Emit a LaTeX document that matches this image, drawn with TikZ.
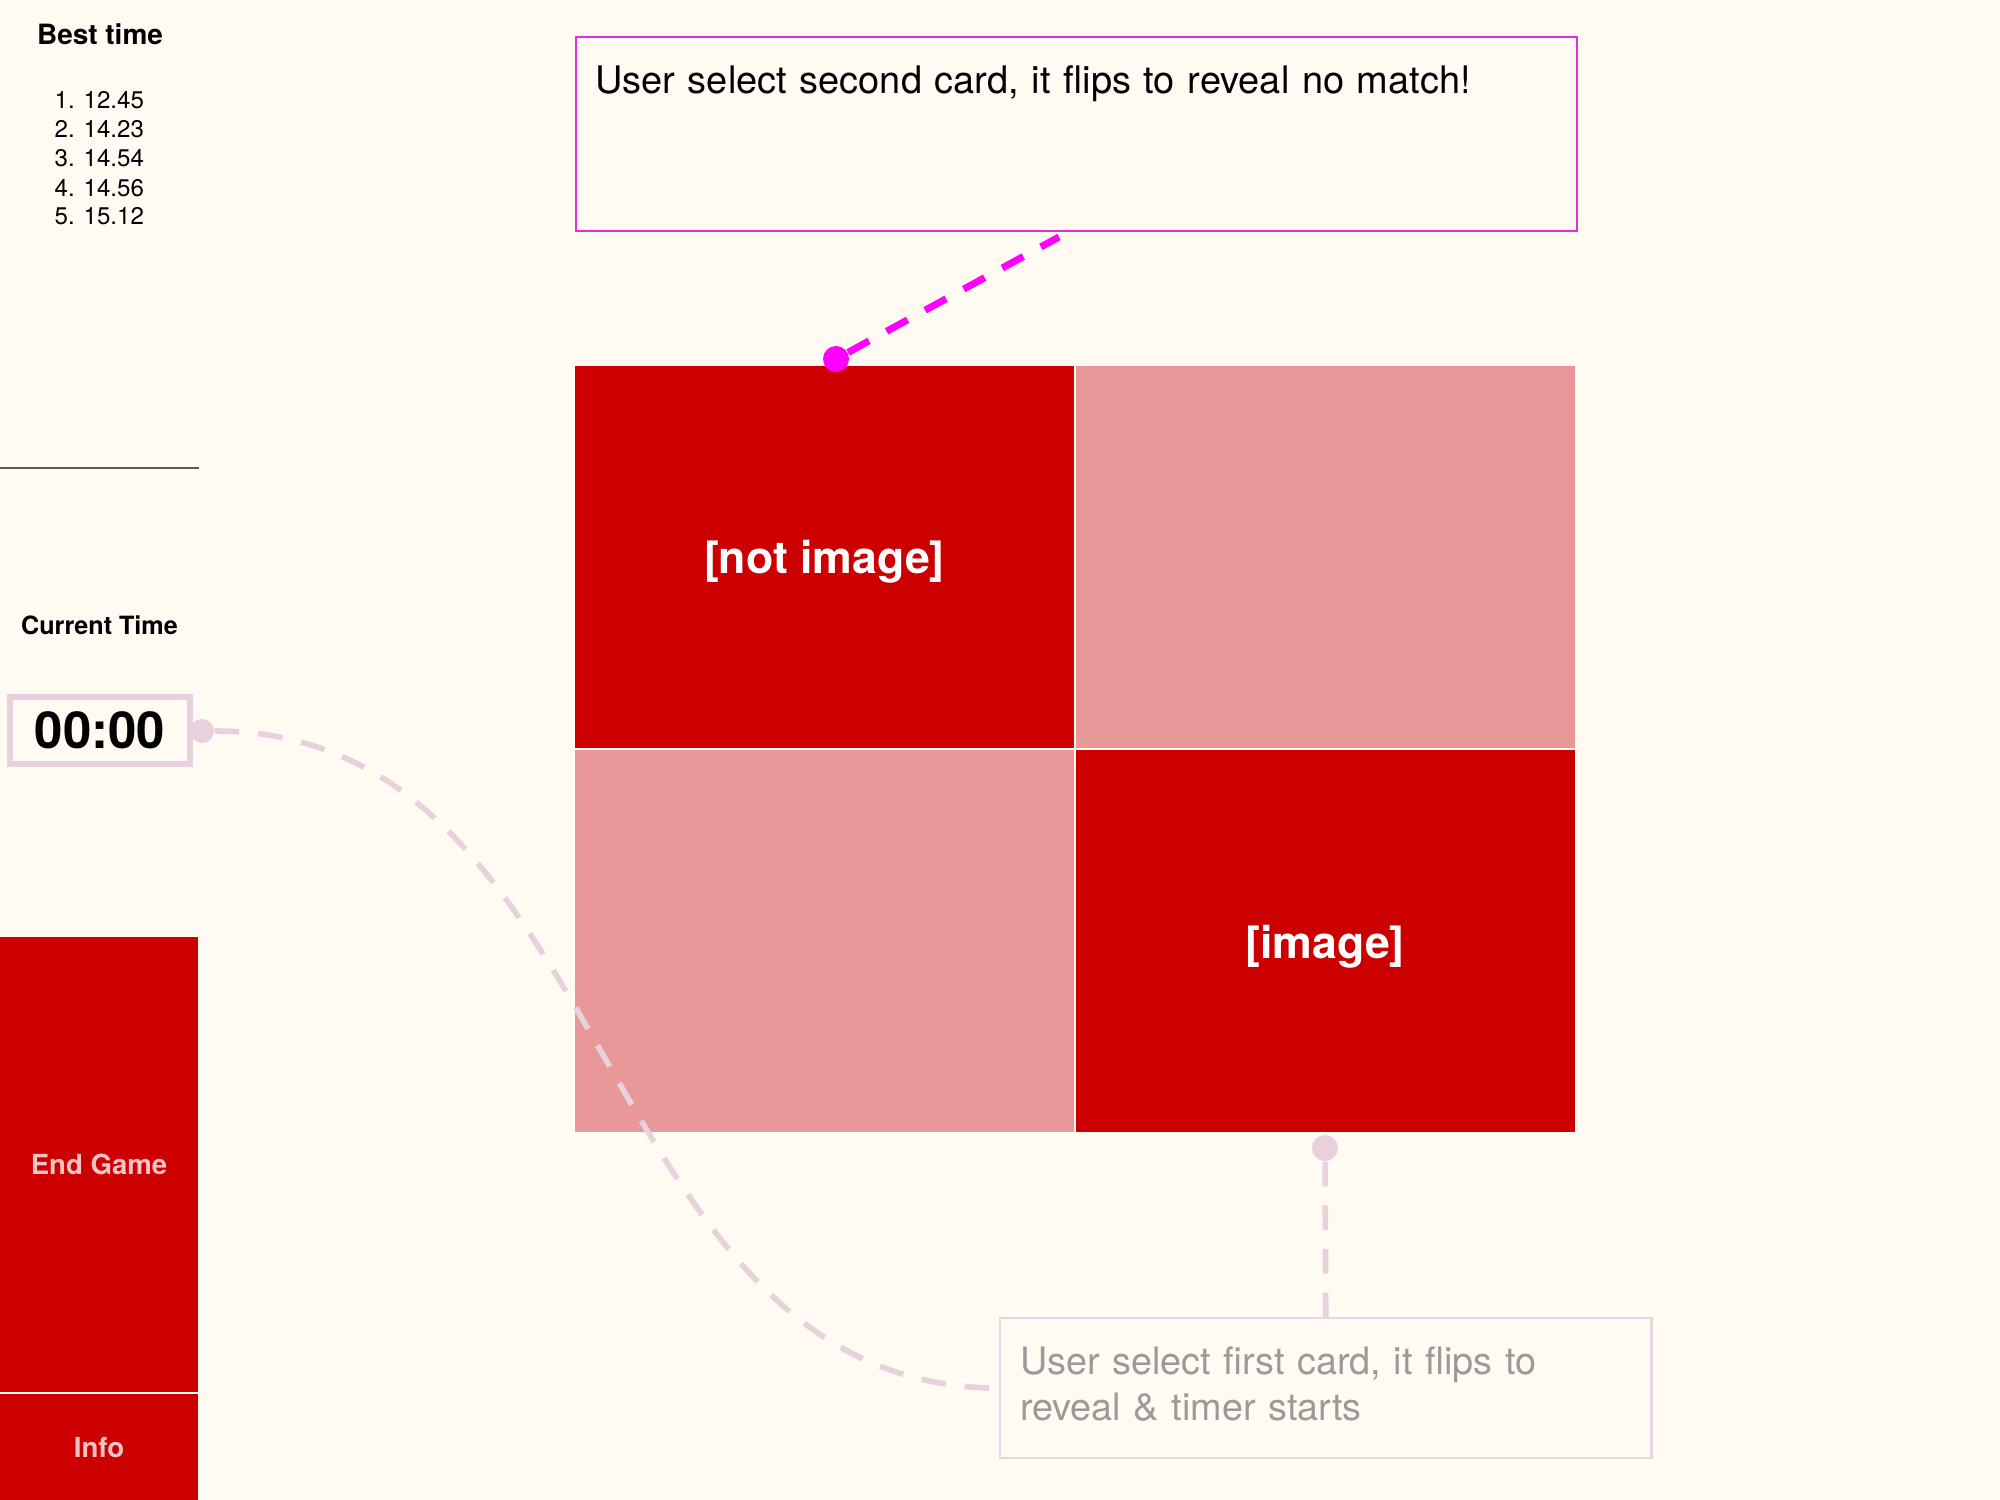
\documentclass[tikz,border=0pt]{standalone}
\usepackage{fontspec}
\setmainfont{TeX Gyre Heros}
\usetikzlibrary{positioning}
\definecolor{paper}{HTML}{FFFBF2}
\definecolor{cardred}{HTML}{CC0000}
\definecolor{cardpink}{HTML}{E89898}
\definecolor{softpink}{HTML}{E8D0DC}
\definecolor{notepink}{HTML}{EAD6E0}
\definecolor{notegray}{HTML}{9A9A9A}
\definecolor{btntext}{HTML}{F6C4C4}
\definecolor{magentaline}{HTML}{E22EE2}
\definecolor{magentadot}{HTML}{FF00FF}
\tikzset{
    card/.style={minimum width=4.985cm, minimum height=3.82cm, inner sep=0pt, outer sep=0pt, text=white, font=\bfseries\fontsize{12.7}{15}\selectfont},
    button/.style={fill=cardred, text=btntext, minimum width=1.98cm, inner sep=0pt, outer sep=0pt, font=\bfseries\fontsize{7.85}{9}\selectfont},
    pindot/.style={circle, inner sep=0pt},
    pinkdash/.style={draw=softpink, line width=1.6pt, dash pattern=on 7pt off 5.4pt},
    magentadash/.style={draw=magentadot, line width=2pt, dash pattern=on 6.8pt off 5.7pt}
}

\begin{document}
\begin{tikzpicture}[x=0.01cm, y=-0.01cm]
    \fill[paper] (0,0) rectangle (2000,1500);
    \useasboundingbox (0,0) rectangle (2000,1500);

    % side bar
    \node[font=\bfseries\fontsize{7.95}{9}\selectfont, anchor=base] (besttitle) at (100,45) {Best time};
    \foreach \t [count=\i] in {12.45,14.23,14.54,14.56,15.12}
        \node[font=\fontsize{6.85}{8}\selectfont, anchor=base west, inner sep=0pt] (best\i) at (54,{80+29*\i}) {\i. \t};
    \draw[black!65, line width=0.6pt] (0,468) -- (199,468);
    \node[font=\bfseries\fontsize{7.15}{9}\selectfont, anchor=base] (curtitle) at (99.5,634) {Current Time};
    \node[draw=softpink, line width=1.7pt, minimum width=1.79cm, minimum height=0.67cm, inner sep=0pt, font=\bfseries\fontsize{14.5}{17}\selectfont] (timer) at (100,730.5) {00:00};
    \node[pindot, fill=softpink, minimum size=0.24cm] (timerdot) at (202,731) {};
    \node[button, anchor=north west, minimum height=4.55cm] (endgame) at (0,937) {End Game};
    \node[button, below=0.02cm of endgame, minimum height=1.06cm] (info) {Info};

    % cards
    \node[card, fill=cardred, anchor=north west] (cardA) at (575,366) {\raisebox{-0.05cm}[\height][\depth]{[not image]}};
    \node[card, fill=cardpink, right=0.02cm of cardA] (cardB) {};
    \node[card, fill=cardpink, below=0.02cm of cardA] (cardC) {};
    \node[card, fill=cardred, right=0.02cm of cardC] (cardD) {\raisebox{-0.05cm}[\height][\depth]{[image]}};

    % notes
    \node[draw=magentaline, line width=0.6pt, anchor=north west, inner xsep=0.19cm, inner ysep=0.29cm, text width=9.62cm, text height=0.27cm, text depth=1.09cm, align=left, font=\fontsize{10.8}{12}\selectfont] (secondnote) at (575,36) {User select second card, it flips to reveal no match!};
    \node[draw=notepink, line width=0.6pt, anchor=north west, inner xsep=0.2cm, text width=6.11cm, minimum height=1.40cm, align=left, text=notegray, font=\fontsize{10.75}{13}\selectfont] (firstnote) at (999,1317) {User select first card, it flips to\\reveal \& timer starts\vphantom{y}\rule{0pt}{0.1cm}};

    \node[pindot, fill=magentadot, minimum size=0.26cm] (seconddot) at (836,359) {};
    \node[pindot, fill=softpink, minimum size=0.26cm] (firstdot) at (1325,1148) {};
    \coordinate (secondtip) at (1059,237);

    \draw[magentadash] (seconddot) -- (secondtip);
    \draw[pinkdash] (firstdot) -- (firstnote.north);
    \draw[pinkdash] (timerdot) .. controls (620,731) and (590,1387) .. (firstnote.west);
\end{tikzpicture}
\end{document}
